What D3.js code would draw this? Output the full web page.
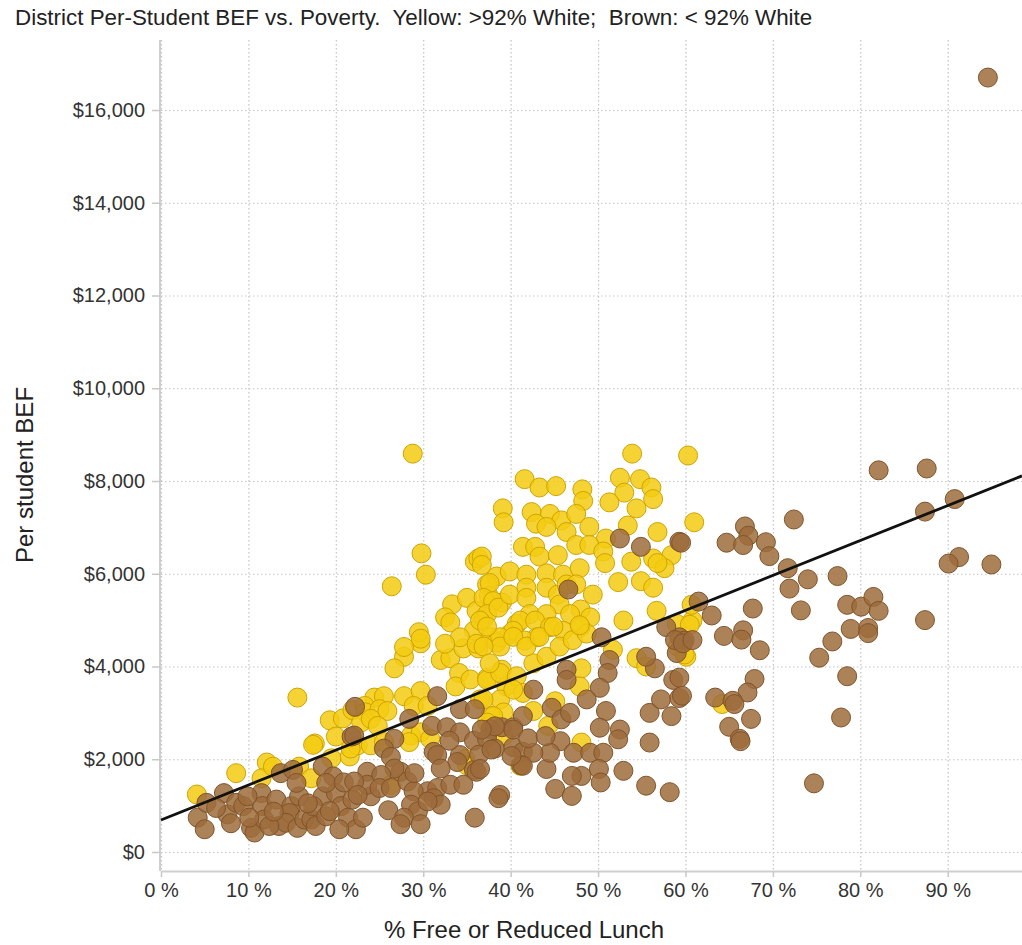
<!DOCTYPE html>
<html>
<head>
<meta charset="utf-8">
<script src="https://cdn.jsdelivr.net/npm/d3@7"></script>
<style>
    body { margin: 0; background: #fff; }
    #chart { width: 1022px; height: 945px; }
    text { font-family: "Liberation Sans", Arial, sans-serif; }
</style>
</head>
<body>
<div id="chart"></div>
<script>
var title_text = 'District Per-Student BEF vs. Poverty.  Yellow: >92% White;  Brown: < 92% White';
var x_title = '% Free or Reduced Lunch';
var y_title = 'Per student BEF';

var x_ticks = [0, 10, 20, 30, 40, 50, 60, 70, 80, 90];
var y_ticks = [0, 2000, 4000, 6000, 8000, 10000, 12000, 14000, 16000];

// [% free or reduced lunch, per student BEF]
var yellow_points = [
    [15.6,3330],[8.6,1700],[4.1,1240],[12.1,1930],[11.5,1590],[15.8,1840],[17.2,1590],[19.3,2840],
    [20.8,2880],[17.6,2340],[17.4,2310],[20.0,2490],[19.5,2020],[21.6,2060],[21.9,3060],[12.8,1840],
    [27.8,4210],[26.7,3960],[29.7,4500],[32.0,4140],[33.1,4180],[34.6,4390],[36.3,4390],[34.1,3860],
    [33.7,3570],[35.4,3720],[37.3,3750],[39.0,3930],[39.5,3570],[38.8,3290],[39.2,3010],[37.7,2940],
    [36.5,3290],[24.4,3330],[25.5,3360],[23.3,3150],[23.4,3010],[25.0,3080],[25.9,3040],[27.8,3360],
    [29.7,3470],[28.9,3150],[30.5,3150],[22.9,2795],[24.0,2870],[24.8,2720],[22.5,2300],[24.0,2300],
    [25.5,2370],[28.6,2510],[29.7,2580],[28.4,2370],[30.8,2440],[34.8,2010],[35.0,1870],[26.3,1450],
    [21.7,2230],
    [28.8,8590],[29.8,6440],[30.3,5980],[26.4,5730],[35.9,6260],[36.3,6330],[38.4,5940],[37.3,5770],
    [39.9,6050],[33.3,5340],[35.0,5480],[37.5,5520],[39.0,5380],[36.1,5200],[32.5,5060],[33.1,4950],
    [36.9,5020],[29.5,4740],[29.7,4600],[27.8,4420],[35.8,4770],[34.2,4630],[37.7,4630],[39.9,4700],
    [40.7,4920],[32.5,4490],[36.1,4490],[38.4,4520],
    [53.9,8590],[60.3,8550],[41.6,8040],[43.3,7860],[45.2,7890],[48.2,7820],[48.3,7570],[52.5,8070],
    [53.0,7750],[54.8,8040],[56.1,7860],[56.3,7610],[51.3,7540],[54.4,7410],[39.1,7410],[39.2,7110],
    [42.4,7330],[44.5,7290],[45.8,7150],[47.5,7290],[42.9,7080],[44.1,7010],[46.4,6900],[49.0,7010],
    [53.4,7040],[56.8,6900],[61.0,7110],[50.9,6760],[41.4,6580],[42.8,6580],[43.3,6370],[45.4,6400],
    [47.5,6620],[49.0,6620],[50.6,6480],[50.8,6230],[53.8,6260],[56.3,6330],[58.4,6400],[57.6,6120],
    [36.7,6370],[36.7,6190],[41.8,5980],[44.1,6010],[46.0,5980],[47.9,6120],[52.3,5820],[54.9,5840],
    [56.3,5700],[56.8,6230],[37.6,5800],[36.9,5480],[38.0,5410],[37.3,5130],[38.6,5270],[39.9,5550],
    [41.8,5700],[41.8,5480],[42.2,5130],[44.1,5700],[45.4,5550],[45.6,5340],[46.4,5770],[47.5,5770],
    [49.4,5550],[48.0,5230],[49.1,5060],[46.8,5130],[44.1,5130],[41.1,4990],[42.8,4990],[44.5,4850],
    [46.0,4770],[48.0,4850],[40.3,4770],[38.8,4630],[36.5,4990],[52.9,4990],[56.7,5200],[59.0,4920],
    [60.8,4990],[43.0,4630],[41.6,4560],
    [54.4,4180],[55.5,4000],[48.1,3960],[47.9,3570],[44.3,2720],[42.6,3040],[45.1,3250],[38.0,2930],
    [36.9,3290],[37.3,3710],[38.8,3860],[40.7,3790],[41.4,3430],[40.3,3500],[42.6,4070],[44.1,4210],
    [45.6,4430],[47.1,4570],[48.7,4710],[38.8,4430],[40.3,4640],[41.8,4430],[43.3,4640],[44.9,4860],
    [47.9,4890],[37.3,4860],[36.9,4430],[37.6,4070],[48.1,2360],[59.1,4430],[60.1,4210],[51.7,4360],
    [37.3,2790],[39.2,2500],[41.1,1860],
    [64.2,3190],[60.7,5330],[60.5,4900],[59.9,4260]
];

var brown_points = [
    [4.2,740],[5.0,490],[5.2,1060],[7.2,1270],[7.6,810],[8.6,1060],[10.3,520],[10.7,420],
    [9.4,990],[11.5,1270],[11.6,990],[11.8,700],[13.2,1130],[13.7,1700],[13.5,560],[14.9,990],
    [15.1,1770],[14.7,840],[14.3,630],[15.6,520],[16.4,700],[15.8,1200],[17.2,700],[18.5,1200],
    [18.5,1840],[19.7,1630],[20.0,1270],[18.9,1490],[20.6,990],[21.4,740],[21.9,1130],[21.8,2490],
    [22.2,3130],[22.3,490],[10.1,740],[17.4,990],[15.5,1490],[12.4,560],[17.7,560],[18.9,770],
    [20.4,490],[6.3,950],[8.0,620],[9.9,1200],[12.9,870],[16.8,1050],[19.3,880],[20.9,1500],
    [24.0,1200],[26.0,900],
    [31.6,3360],[28.4,2870],[31.0,2720],[32.7,2690],[34.2,2580],[34.2,3080],[35.9,3080],[35.8,2400],
    [37.7,2650],[39.0,2690],[40.3,2690],[37.3,2440],[38.2,2230],[40.3,2260],[41.4,2160],[41.2,1870],
    [31.2,2160],[31.6,2090],[34.2,2090],[33.9,1940],[32.0,1800],[35.8,1770],[26.7,2440],[25.5,2230],
    [26.3,2050],[27.4,1730],[26.7,1800],[22.1,2510],[23.6,1730],[23.6,1450],[22.1,1520],[22.5,1230],
    [25.2,1660],[25.0,1380],[26.3,1380],[28.2,1520],[30.5,1310],[28.9,1310],[31.6,1380],[33.1,1450],
    [34.6,1450],[36.1,1730],[31.2,1160],[32.0,1020],[28.6,1020],[29.4,880],[27.8,740],[29.7,600],
    [23.1,740],[27.4,600],[38.8,1230],[38.6,1160],[35.9,740],[30.5,1090],[29.0,1700],[33.0,2400],
    [36.4,2100],
    [52.5,6760],[54.9,6580],[59.3,6690],[46.6,5660],[50.4,4630],[59.3,4630],[57.8,4850],[59.9,4560],
    [61.5,5400],
    [51.3,4140],[51.1,3860],[46.4,3930],[46.4,3710],[50.2,3540],[48.7,3290],[42.6,3500],[44.7,3110],
    [45.8,2860],[46.8,3000],[41.4,2930],[40.3,2640],[38.2,2710],[36.7,2640],[50.9,3040],[50.2,2680],
    [52.5,2640],[52.3,2430],[45.7,2390],[47.2,2140],[49.1,2140],[50.6,2140],[50.1,1790],[52.9,1750],
    [50.3,1500],[48.1,1640],[47.0,1640],[45.1,1360],[47.0,1210],[44.1,1790],[44.5,2140],[42.6,2140],
    [41.4,1860],[40.1,2070],[37.8,2210],[36.5,1790],[55.9,3000],[57.2,3290],[59.3,3320],[58.6,3710],
    [59.0,4290],[58.8,4570],[59.7,4500],[60.8,4570],[56.5,3960],[55.5,4210],[58.4,2930],[55.9,2360],
    [55.5,1430],[58.2,1290],[42.0,2450],[44.0,2500],
    [82.1,8230],[87.6,8270],[90.8,7610],[87.4,7340],[72.4,7170],[66.8,7020],[67.2,6820],[64.7,6670],
    [66.6,6620],[69.2,6680],[69.6,6380],[59.5,6670],[71.7,6120],[91.3,6360],[90.1,6220],[95.0,6200],
    [74.0,5880],[77.4,5950],[71.9,5680],[73.2,5210],[67.7,5250],[63.0,5100],[78.5,5330],[80.1,5290],
    [81.5,5500],[82.1,5200],[78.9,4810],[80.9,4830],[80.9,4720],[76.8,4540],[75.3,4190],[87.4,5000],
    [64.4,4660],[66.6,4780],[66.4,4580],[68.5,4350],[78.5,3790],[67.9,3730],[67.1,3440],[63.4,3330],
    [65.4,3260],[65.6,3190],[59.6,3370],[67.5,2870],[65.0,2700],[66.2,2440],[66.3,2390],[77.8,2900],
    [74.7,1480],[59.3,3760],
    [94.6,16700]
];

// fitted trend line end points
var trend_points = [[0, 690], [98.5, 8110]];

function draw_chart(container_id)
{
    let width = 1022, height = 945;
    let plot = {left: 161, right: 1022, top: 40, bottom: 871};

    let svg = d3.select('#' + container_id)
        .append('svg')
        .attr('width', width)
        .attr('height', height);

    let x = d3.scaleLinear().domain([0, 98.5]).range([plot.left, plot.right]);
    let y = d3.scaleLinear().domain([-410, 17510]).range([plot.bottom, plot.top]);

    // dotted grid
    svg.append('g').selectAll('line.vgrid')
        .data(x_ticks)
        .enter().append('line')
        .attr('class', 'vgrid')
        .attr('x1', d => x(d) + 0.5).attr('x2', d => x(d) + 0.5)
        .attr('y1', plot.top).attr('y2', plot.bottom)
        .attr('stroke', '#c4c4c4')
        .attr('stroke-width', 1.2)
        .attr('stroke-dasharray', '1.5,2.5');

    svg.append('g').selectAll('line.hgrid')
        .data(y_ticks)
        .enter().append('line')
        .attr('class', 'hgrid')
        .attr('x1', plot.left).attr('x2', plot.right)
        .attr('y1', d => y(d) + 0.5).attr('y2', d => y(d) + 0.5)
        .attr('stroke', '#c4c4c4')
        .attr('stroke-width', 1.2)
        .attr('stroke-dasharray', '1.5,2.5');

    // axes
    let x_axis = svg.append('g')
        .attr('transform', 'translate(0,' + plot.bottom + ')')
        .call(d3.axisBottom(x)
            .tickValues(x_ticks)
            .tickFormat(d => d + ' %')
            .tickSize(6)
            .tickSizeOuter(0)
            .tickPadding(6));

    let y_axis = svg.append('g')
        .attr('transform', 'translate(' + (plot.left - 1) + ',0)')
        .call(d3.axisLeft(y)
            .tickValues(y_ticks)
            .tickFormat(d => '$' + d3.format(',')(d))
            .tickSize(8)
            .tickSizeOuter(0)
            .tickPadding(7));

    [x_axis, y_axis].forEach(function(a) {
        a.select('.domain').attr('stroke', '#cfcfcf').attr('stroke-width', 2);
        a.selectAll('.tick line').attr('stroke', '#c8c8c8').attr('stroke-width', 1.5);
        a.selectAll('.tick text')
            .attr('fill', '#333')
            .style('font-size', '20px');
    });
    y_axis.select('.domain').attr('d', 'M0,' + plot.top + 'V' + plot.bottom);

    // points: yellow first, brown on top
    let dots = svg.append('g');
    dots.selectAll('circle.yellow')
        .data(yellow_points)
        .enter().append('circle')
        .attr('class', 'yellow')
        .attr('cx', d => x(d[0]))
        .attr('cy', d => y(d[1]))
        .attr('r', 9.5)
        .style('fill', '#f3cb12')
        .style('fill-opacity', 0.85)
        .style('stroke', '#cfa400')
        .style('stroke-width', 1);

    dots.selectAll('circle.brown')
        .data(brown_points)
        .enter().append('circle')
        .attr('class', 'brown')
        .attr('cx', d => x(d[0]))
        .attr('cy', d => y(d[1]))
        .attr('r', 9.5)
        .style('fill', '#9e6c3c')
        .style('fill-opacity', 0.85)
        .style('stroke', '#80542b')
        .style('stroke-width', 1);

    // trend line
    svg.append('path')
        .datum(trend_points)
        .attr('d', d3.line().x(d => x(d[0])).y(d => y(d[1])))
        .attr('fill', 'none')
        .attr('stroke', '#111')
        .attr('stroke-width', 2.8);

    // titles
    svg.append('text')
        .attr('x', 15)
        .attr('y', 25)
        .attr('fill', '#222')
        .style('font-size', '22.4px')
        .style('white-space', 'pre')
        .text(title_text);

    svg.append('text')
        .attr('x', 524)
        .attr('y', 938)
        .attr('text-anchor', 'middle')
        .attr('fill', '#222')
        .style('font-size', '24px')
        .text(x_title);

    svg.append('text')
        .attr('transform', 'translate(33,475) rotate(-90)')
        .attr('text-anchor', 'middle')
        .attr('fill', '#222')
        .style('font-size', '24px')
        .text(y_title);
}

draw_chart('chart');
</script>
</body>
</html>
